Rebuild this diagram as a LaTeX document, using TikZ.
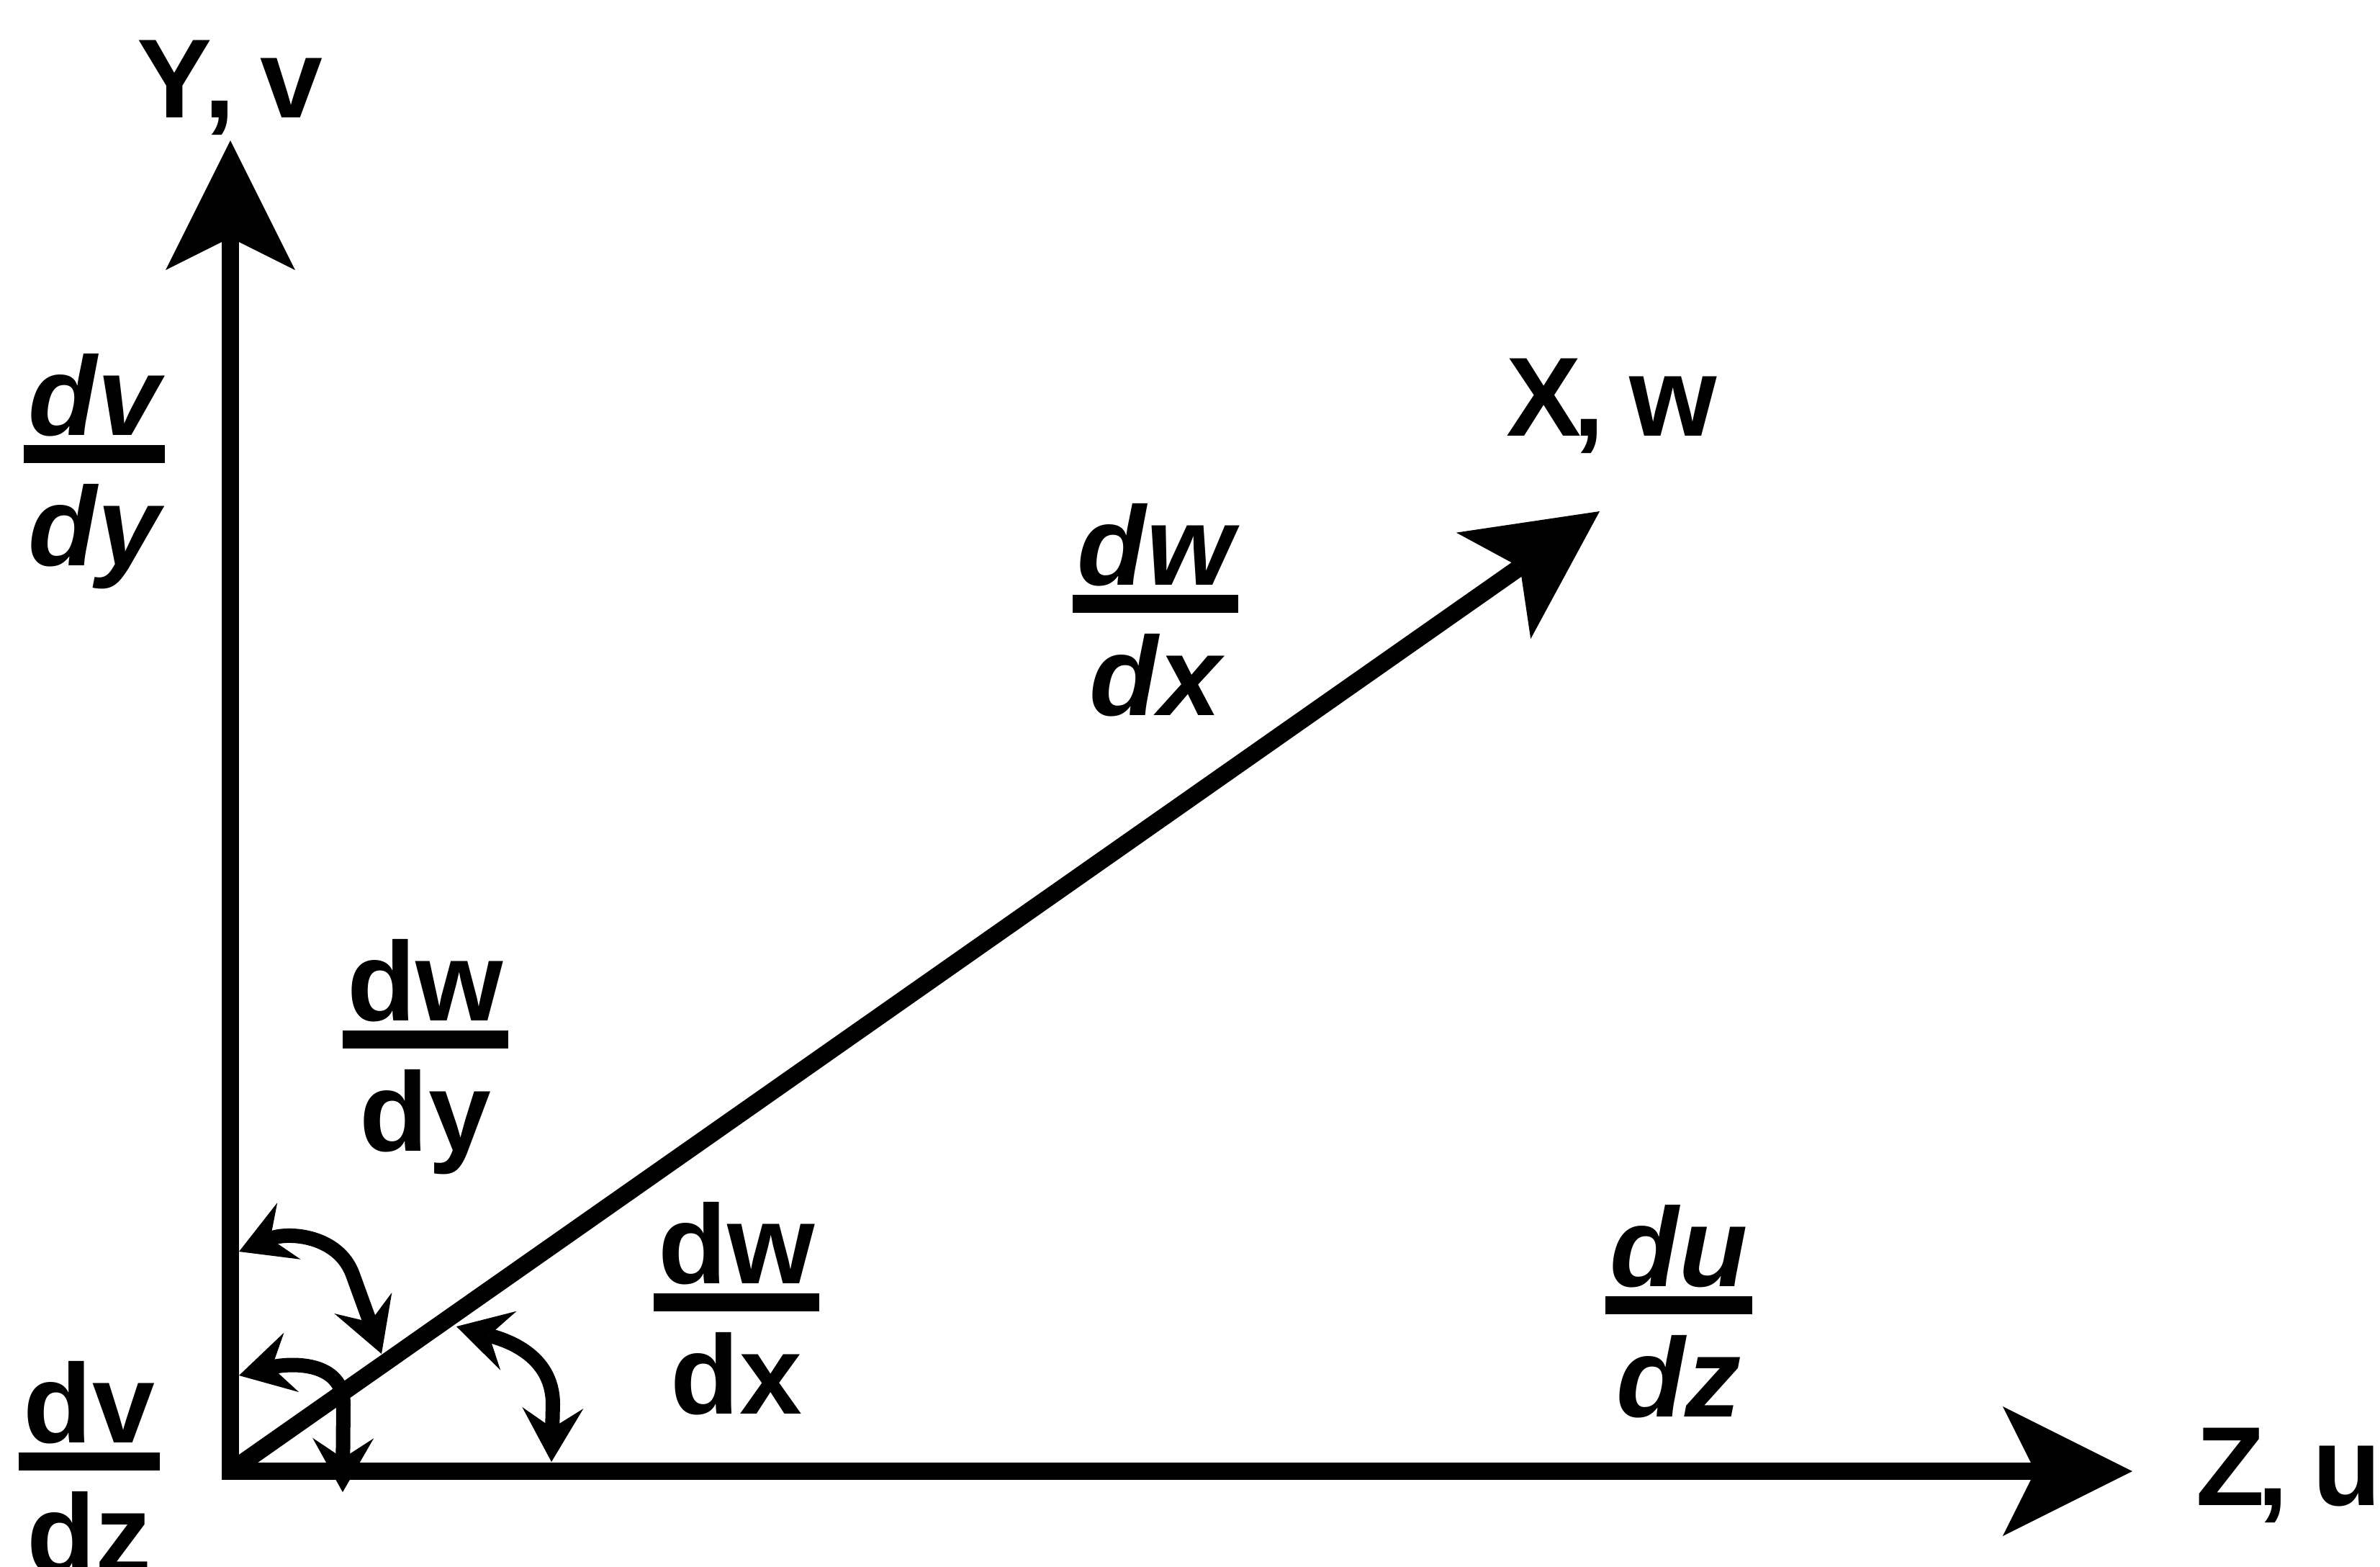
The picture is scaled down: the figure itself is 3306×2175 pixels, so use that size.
\documentclass[tikz,border=0pt]{standalone}
\usepackage{fontspec}
\setmainfont{Liberation Sans}
\usetikzlibrary{arrows.meta}
\newcommand{\fr}[2]{\vbox{\offinterlineskip\halign{\hskip2pt\hfil##\hfil\hskip2pt\cr #1\cr\noalign{\kern3.5pt\hrule height7pt\kern8.5pt}#2\vphantom{y}\cr}}}
\newcommand{\axlab}[2]{#1\kern-0.07em,\hspace{0.22em}#2}
\begin{document}
\begin{tikzpicture}[x=0.01cm,y=-0.01cm,
  bigtip/.tip={Stealth[length=1.8cm,width=1.8cm,inset=0.45cm,line width=0pt]},
  smalltip/.tip={Stealth[length=0.75cm,width=0.85cm,inset=0.28cm,line width=0pt]},
  axisline/.style={line width=0.24cm, line join=miter},
  anglearc/.style={line width=0.2cm, line join=round, smalltip-smalltip},
  lab/.style={font=\fontsize{44.4}{50}\selectfont\bfseries, inner sep=0pt},
  fracu/.style={font=\fontsize{44.4}{50}\selectfont\bfseries, inner sep=0pt, yshift=-0.248cm},
  fraci/.style={font=\fontsize{44.4}{50}\selectfont\bfseries\itshape, inner sep=0pt, yshift=-0.248cm}]
\useasboundingbox (0,0) rectangle (3306,2175);
% axes
\coordinate (O) at (320,2043);
\coordinate (Ytip) at (320,195);
\coordinate (Ztip) at (2962,2043);
\coordinate (Xtip) at (2222,710);
\draw[axisline, bigtip-bigtip] (Ytip) -- (O) -- (Ztip);
\draw[axisline, -bigtip] (O) -- (Xtip);
% angle markers
\coordinate (a1y) at (332,1738);
\coordinate (a1x) at (530,1880);
\draw[anglearc] (a1y) .. controls (400,1710) and (470,1715) .. (490,1770) -- (a1x);
\coordinate (a2y) at (332,1910);
\coordinate (a2z) at (476,2072);
\draw[anglearc] (a2y) .. controls (400,1893) and (477,1888) .. (477,1950) -- (a2z);
\coordinate (a3x) at (634,1842);
\coordinate (a3z) at (766,2030);
\draw[anglearc] (a3x) .. controls (700,1860) and (768,1880) .. (768,1950) -- (a3z);
% axis labels
\node[lab, anchor=base west] (ylab) at (190,163) {\axlab{Y}{v}};
\node[lab, anchor=base west] (xlab) at (2092,605) {\axlab{X}{w}};
\node[lab, anchor=base west] (zlab) at (3050,2090) {\axlab{Z}{u}};
% derivative labels
\node[fraci] (dvdy) at (131,630) {\fr{dv}{dy}};
\node[fraci] (dwdxi) at (1605,838) {\fr{dw}{dx}};
\node[fracu] (dwdy) at (591,1443) {\fr{dw}{dy}};
\node[fracu] (dwdxu) at (1023,1808) {\fr{dw}{dx}};
\node[fraci] (dudz) at (2332,1812) {\fr{du}{dz}};
\node[fracu] (dvdz) at (124,2029) {\fr{dv}{dz}};
\end{tikzpicture}
\end{document}
